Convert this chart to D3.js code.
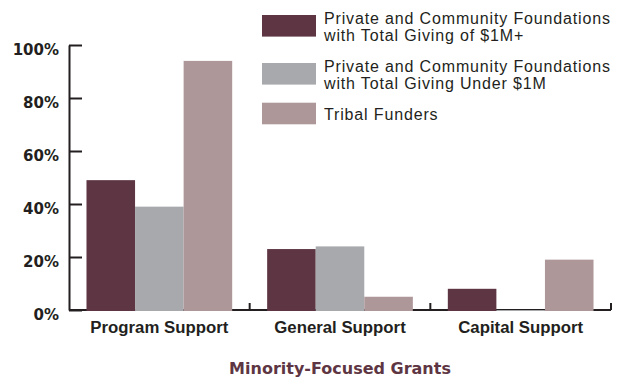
<!DOCTYPE html>
<html>
<head>
<meta charset="utf-8">
<script src="https://cdn.jsdelivr.net/npm/d3@7"></script>
<style>
  html, body { margin: 0; padding: 0; background: #ffffff; }
  svg { display: block; }
</style>
</head>
<body>
<svg id="chart" width="625" height="378"></svg>
<script>
// Share of minority-focused grant dollars by support type, per funder group (%)
const categories = ["Program Support", "General Support", "Capital Support"];
const seriesNames = [
  "Private and Community Foundations\nwith Total Giving of $1M+",
  "Private and Community Foundations\nwith Total Giving Under $1M",
  "Tribal Funders"
];
const largeFoundations = [49, 23, 8];
const smallFoundations = [39, 24, 0];
const tribalFunders = [94, 5, 19];
const yTicks = [0, 20, 40, 60, 80, 100];
const chartTitle = "Minority-Focused Grants";

const seriesValues = [largeFoundations, smallFoundations, tribalFunders];
const colors = ["#5e3643", "#a7a9ac", "#ae9799"];
const ink = "#231f20";

const svg = d3.select("#chart");
const plot = { left: 69, right: 611, top: 45, bottom: 310 };

const y = d3.scaleLinear().domain([0, 100]).range([plot.bottom, plot.top]);
const x0 = d3.scaleBand().domain(categories).range([plot.left, plot.right]).padding(0);
const x1 = d3.scaleBand().domain(d3.range(seriesNames.length))
  .range([0, x0.bandwidth()]).paddingInner(0).paddingOuter(0.36);

// Y axis: ticks point into the plot, labels on the left
const yAxis = svg.append("g")
  .attr("transform", `translate(${plot.left},0)`)
  .call(d3.axisLeft(y).tickValues(yTicks).tickSize(-13).tickSizeOuter(0)
    .tickPadding(10).tickFormat(d => d + "%"));
yAxis.select(".domain").attr("stroke", ink).attr("stroke-width", 2);
yAxis.selectAll(".tick line").attr("stroke", ink).attr("stroke-width", 2);
yAxis.selectAll(".tick text")
  .attr("fill", ink)
  .attr("dy", "0.6em")
  .style("font-family", "'DejaVu Sans', sans-serif")
  .style("font-weight", "bold")
  .style("font-size", "15px");

// X baseline with small upward ticks at the category boundaries
const xAxis = svg.append("g");
xAxis.append("line")
  .attr("x1", plot.left).attr("x2", plot.right)
  .attr("y1", y(0)).attr("y2", y(0))
  .attr("stroke", ink).attr("stroke-width", 2);
xAxis.selectAll("line.boundary")
  .data(categories)
  .join("line")
  .attr("class", "boundary")
  .attr("x1", d => x0(d) + x0.bandwidth())
  .attr("x2", d => x0(d) + x0.bandwidth())
  .attr("y1", y(0)).attr("y2", y(0) - 7)
  .attr("stroke", ink).attr("stroke-width", 2);
xAxis.selectAll("text")
  .data(categories)
  .join("text")
  .attr("x", d => x0(d) + x0.bandwidth() / 2)
  .attr("y", 333)
  .attr("text-anchor", "middle")
  .attr("fill", ink)
  .style("font-family", "'Liberation Sans', Arial, sans-serif")
  .style("font-weight", "bold")
  .style("font-size", "16.8px")
  .text(d => d);

// Bars
const groups = svg.append("g").selectAll("g")
  .data(categories)
  .join("g")
  .attr("transform", d => `translate(${x0(d)},0)`);
groups.selectAll("rect")
  .data((c, ci) => seriesValues.map((vals, si) => ({ si, value: vals[ci] })))
  .join("rect")
  .attr("x", d => x1(d.si))
  .attr("width", x1.bandwidth())
  .attr("y", d => y(d.value))
  .attr("height", d => y(0) - y(d.value) + 1)
  .attr("fill", d => colors[d.si]);

// Legend: swatches with one- or two-line labels, stacked from the top
const lineH = 16.6, gap = 14.8;
let center = 25.8, prevH = null;
const legend = svg.append("g");
seriesNames.forEach((name, i) => {
  const lines = name.split("\n");
  const h = lines.length * lineH + gap;
  if (prevH !== null) center += (prevH + h) / 2;
  prevH = h;
  legend.append("rect")
    .attr("x", 262).attr("y", center - 10.8)
    .attr("width", 54).attr("height", 21.6)
    .attr("fill", colors[i]);
  const firstBase = center + 1 + 5.8 - (lines.length - 1) * lineH / 2;
  legend.append("text")
    .attr("x", 324)
    .attr("fill", ink)
    .style("font-family", "'Liberation Sans', Arial, sans-serif")
    .style("font-size", "16px")
    .style("letter-spacing", "0.85px")
    .selectAll("tspan")
    .data(lines)
    .join("tspan")
    .attr("x", 324)
    .attr("y", (d, k) => firstBase + k * lineH)
    .text(d => d);
});

// Chart title under the categories
svg.append("text")
  .attr("x", 340)
  .attr("y", 374)
  .attr("text-anchor", "middle")
  .attr("fill", "#5e3643")
  .style("font-family", "'DejaVu Sans', sans-serif")
  .style("font-weight", "bold")
  .style("font-size", "16px")
  .text(chartTitle);
</script>
</body>
</html>
